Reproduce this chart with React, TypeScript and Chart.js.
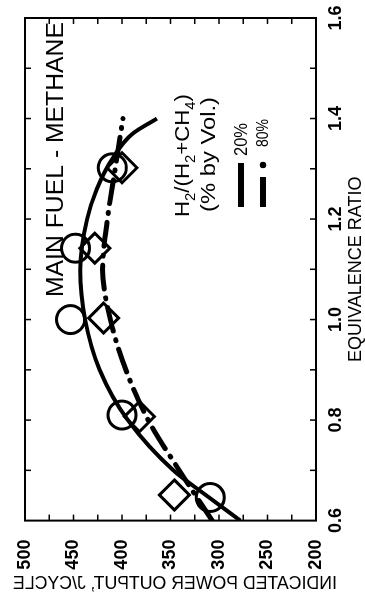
import React, { useEffect, useRef } from "react";
import { Chart, registerables } from "chart.js";

Chart.register(...registerables);

// ---- data ----
const circlePhi = [0.646, 0.81, 1.0, 1.142, 1.302];
const circlePower = [309, 400, 453, 448, 410];
const diamondPhi = [0.651, 0.807, 1.003, 1.142, 1.302];
const diamondPower = [346, 382, 419, 428, 400];

const fit20Phi = [0.6, 0.65, 0.7, 0.8, 0.9, 1.0, 1.1, 1.2, 1.26, 1.32, 1.37, 1.4];
const fit20Power = [278, 313, 347, 394, 423, 438, 443, 436, 426, 410, 389, 364];
const fit80Phi = [0.6, 0.7, 0.8, 0.9, 1.0, 1.1, 1.2, 1.3, 1.4];
const fit80Power = [307, 341, 373, 396, 412, 420, 415, 407, 399];

const xMinorTicks = [0.7, 0.8, 0.9, 1.0, 1.1, 1.2, 1.3, 1.4, 1.5];
const yMinorTicks = [225, 250, 275, 300, 325, 350, 375, 400, 425, 450, 475];

const xTitle = "EQUIVALENCE RATIO";
const yTitle = "INDICATED POWER OUTPUT, J/CYCLE";
const noteText = "MAIN FUEL - METHANE";
const legendHead = [["H", 0], ["2", 1], ["/(H", 0], ["2", 1], ["+CH", 0], ["4", 1], [")", 0]] as [string, number][];
const legendSub = "(% by Vol.)";
const legendLabels = ["20%", "80%"];

const FONT = "'Liberation Sans', Arial, Helvetica, sans-serif";

function pts(xs: number[], ys: number[]) {
  return xs.map((x, i) => ({ x, y: ys[i] }));
}

function fitText(ctx: CanvasRenderingContext2D, text: string, x: number, y: number, width: number, font: string) {
  ctx.font = font;
  const w = ctx.measureText(text).width;
  ctx.save();
  ctx.translate(x, y);
  ctx.scale(width / w, 1);
  ctx.textAlign = "left";
  ctx.textBaseline = "alphabetic";
  ctx.fillText(text, 0, 0);
  ctx.restore();
}

const framePlugin = {
  id: "frameAndNotes",
  afterDraw(chart: any) {
    const { ctx, chartArea, scales } = chart;
    const { left, right, top, bottom } = chartArea;
    const x = scales.x;
    const y = scales.y;
    ctx.save();
    ctx.fillStyle = "#000";
    ctx.strokeStyle = "#000";
    ctx.lineWidth = 2;
    ctx.strokeRect(left, top, right - left, bottom - top);
    ctx.lineWidth = 1.5;
    ctx.beginPath();
    for (const v of xMinorTicks) {
      const px = x.getPixelForValue(v);
      ctx.moveTo(px, bottom);
      ctx.lineTo(px, bottom - 6);
      ctx.moveTo(px, top);
      ctx.lineTo(px, top + 6);
    }
    for (const v of yMinorTicks) {
      const py = y.getPixelForValue(v);
      ctx.moveTo(left, py);
      ctx.lineTo(left + 6, py);
      ctx.moveTo(right, py);
      ctx.lineTo(right - 6, py);
    }
    ctx.stroke();

    // annotation
    fitText(ctx, noteText, 300, 63, 275, `24.5px ${FONT}`);

    // legend heading with subscripts
    const big = 21;
    const small = 14;
    let total = 0;
    for (const [s, sub] of legendHead) {
      ctx.font = `${sub ? small : big}px ${FONT}`;
      total += ctx.measureText(s).width;
    }
    const k = 123 / total;
    let cx = 380;
    for (const [s, sub] of legendHead) {
      ctx.font = `${sub ? small : big}px ${FONT}`;
      const w = ctx.measureText(s).width;
      ctx.save();
      ctx.translate(cx, 189 + (sub ? 6 : 0));
      ctx.scale(k, 1);
      ctx.fillText(s, 0, 0);
      ctx.restore();
      cx += w * k;
    }
    fitText(ctx, legendSub, 385, 215, 115, `21px ${FONT}`);
    fitText(ctx, legendLabels[0], 441, 247, 33, `18px ${FONT}`);
    fitText(ctx, legendLabels[1], 450, 268, 28, `17px ${FONT}`);

    // legend symbols
    ctx.lineWidth = 6;
    ctx.lineCap = "butt";
    ctx.beginPath();
    ctx.moveTo(390, 241);
    ctx.lineTo(434, 241);
    ctx.moveTo(390, 263);
    ctx.lineTo(420, 263);
    ctx.stroke();
    ctx.beginPath();
    ctx.arc(432, 263, 3.2, 0, Math.PI * 2);
    ctx.fill();

    // mirrored y-axis title
    ctx.save();
    ctx.translate(8, 337);
    ctx.rotate(-Math.PI / 2);
    ctx.scale(1, -1);
    fitText(ctx, yTitle, 0, 0, 324, `18px ${FONT}`);
    ctx.restore();

    ctx.restore();
  },
};

export default function App() {
  const ref = useRef<HTMLCanvasElement | null>(null);
  useEffect(() => {
    if (!ref.current) return;
    const chart = new Chart(ref.current, {
      type: "scatter",
      data: {
        datasets: [
          {
            label: "20% fit",
            data: pts(fit20Phi, fit20Power),
            showLine: true,
            borderColor: "#000",
            borderWidth: 4,
            pointRadius: 0,
            cubicInterpolationMode: "monotone",
            fill: false,
          },
          {
            label: "80% fit",
            data: pts(fit80Phi, fit80Power),
            showLine: true,
            borderColor: "#000",
            borderWidth: 5,
            borderDash: [24, 9, 1, 9],
            borderCapStyle: "round",
            pointRadius: 0,
            cubicInterpolationMode: "monotone",
            fill: false,
          },
          {
            label: "20%",
            data: pts(circlePhi, circlePower),
            showLine: false,
            pointStyle: "circle",
            pointRadius: 14,
            pointBorderWidth: 3,
            pointBorderColor: "#000",
            pointBackgroundColor: "rgba(0,0,0,0)",
          },
          {
            label: "80%",
            data: pts(diamondPhi, diamondPower),
            showLine: false,
            pointStyle: "rectRot",
            pointRadius: 15,
            pointBorderWidth: 3,
            pointBorderColor: "#000",
            pointBackgroundColor: "rgba(0,0,0,0)",
          },
        ],
      } as any,
      options: {
        animation: false,
        responsive: false,
        events: [],
        layout: { padding: { top: 25, right: 18, left: 0, bottom: 0 } },
        plugins: { legend: { display: false }, tooltip: { enabled: false } },
        scales: {
          x: {
            type: "linear",
            min: 0.6,
            max: 1.6,
            grid: { display: false },
            border: { display: false },
            ticks: {
              stepSize: 0.2,
              color: "#000",
              padding: 1,
              font: { family: FONT, size: 18, weight: "bold" },
              callback: (v: any) => Number(v).toFixed(1),
            },
            title: {
              display: true,
              text: xTitle,
              color: "#000",
              font: { family: FONT, size: 18, lineHeight: 1 },
              padding: { top: 0, bottom: 0 },
            },
            afterFit: (s: any) => {
              s.height = 49;
            },
          },
          y: {
            type: "linear",
            min: 200,
            max: 500,
            grid: { display: false },
            border: { display: false },
            ticks: {
              stepSize: 50,
              color: "#000",
              padding: 11,
              font: { family: FONT, size: 18, weight: "bold" },
            },
            afterFit: (s: any) => {
              s.width = 76.4;
            },
          },
        },
      } as any,
      plugins: [framePlugin],
    });
    return () => chart.destroy();
  }, []);

  return (
    <div style={{ position: "absolute", left: 0, top: 0, width: 365, height: 597, overflow: "hidden", background: "#fff" }}>
      <div
        style={{
          position: "absolute",
          left: 0,
          top: 0,
          width: 597,
          height: 365,
          transformOrigin: "0 0",
          transform: "translate(0px, 597px) rotate(-90deg)",
        }}
      >
        <canvas ref={ref} width={597} height={365} style={{ display: "block" }} />
      </div>
    </div>
  );
}
